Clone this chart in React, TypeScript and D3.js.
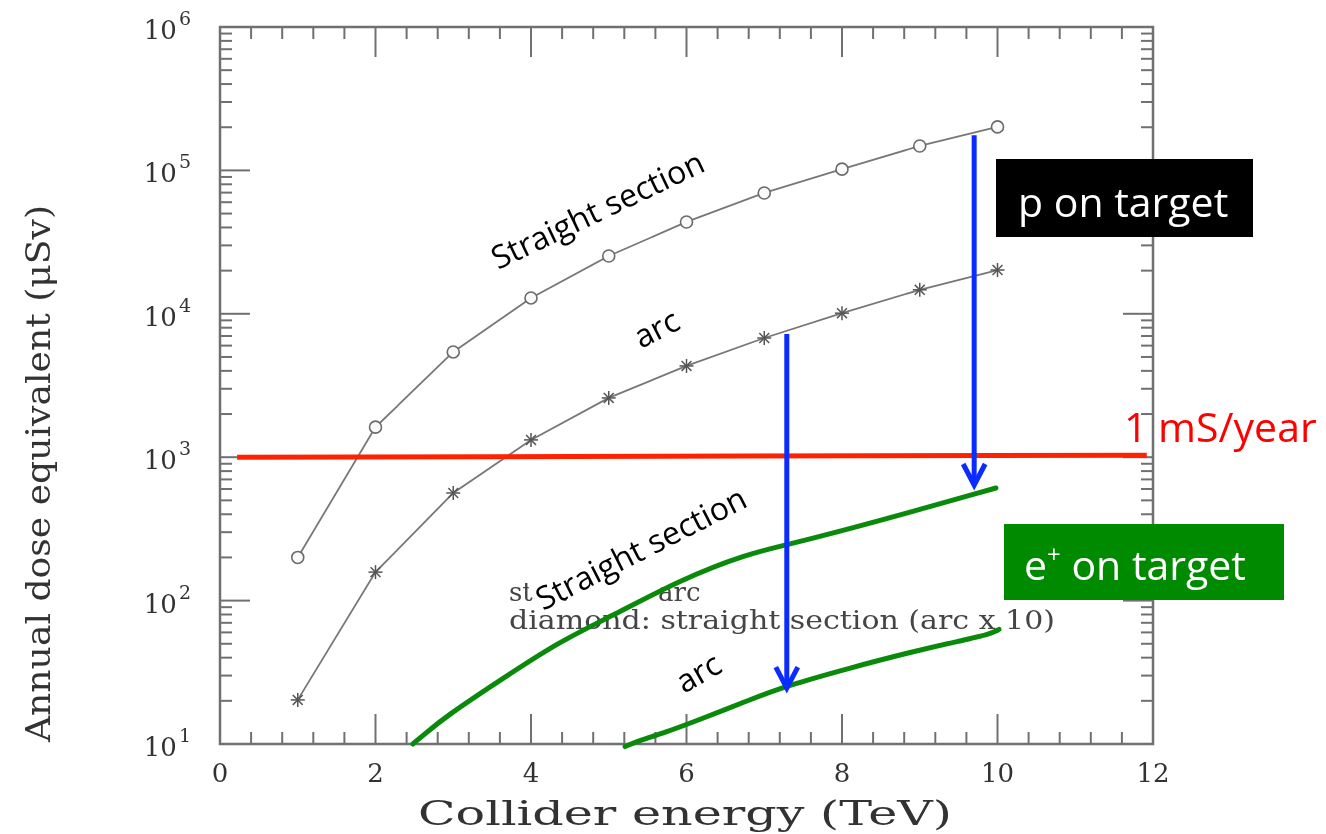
import React, { useEffect, useRef } from 'react';
import * as d3 from 'd3';

// collider energy (TeV) and annual dose (µSv)
const energies = [1, 2, 3, 4, 5, 6, 7, 8, 9, 10];
const straightDose = [200, 1620, 5420, 12900, 25300, 43700, 69600, 102000, 148000, 201000];
const arcDose = [20.3, 158, 563, 1320, 2590, 4330, 6780, 10100, 14700, 20200];

// hand drawn e+ curves
const ePosStraightE = [2.48, 2.62, 2.9, 3.63, 4.37, 5.0, 5.92, 6.78, 7.31, 8.36, 9.98];
const ePosStraightDose = [10, 11.6, 15.5, 28.5, 52, 76, 140, 212, 246, 345, 610];
const ePosArcE = [5.21, 5.4, 5.7, 6.17, 6.78, 7.28, 8.1, 8.89, 9.52, 9.9, 10.02];
const ePosArcDose = [9.6, 10.6, 11.9, 14.8, 20, 25.4, 33.9, 43.8, 52.5, 58, 63];

// 1 mSv/year limit
const limitDose = 1000;
const limitRange = [0.22, 11.92];

// blue arrows: energy, from dose, to dose
const arrowE = [9.7, 7.29];
const arrowFrom = [176000, 7230];
const arrowTo = [640, 24.5];

const xTicks = [0, 2, 4, 6, 8, 10, 12];
const yExponents = [1, 2, 3, 4, 5, 6];

const App = () => {
  const svgRef = useRef(null);

  useEffect(() => {
    const width = 1326;
    const height = 834;
    const svg = d3.select(svgRef.current);
    svg.selectAll('*').remove();
    svg.attr('width', width).attr('height', height);

    const left = 220, right = 1153, top = 27, bottom = 744;
    const x = d3.scaleLinear().domain([0, 12]).range([left, right]);
    const y = d3.scaleLog().domain([10, 1e6]).range([bottom, top]);

    svg.append('defs').append('filter')
      .attr('id', 'soft')
      .append('feGaussianBlur')
      .attr('stdDeviation', 0.6);

    const base = svg.append('g').attr('filter', 'url(#soft)');
    const axisCol = '#707070';

    base.append('rect')
      .attr('x', left).attr('y', top)
      .attr('width', right - left).attr('height', bottom - top)
      .attr('fill', 'none').attr('stroke', axisCol).attr('stroke-width', 2.5);

    // x ticks top and bottom
    const xMinor = d3.range(0, 12.001, 0.4).filter(v => Math.abs(v / 2 - Math.round(v / 2)) > 0.01);
    const tickG = base.append('g').attr('stroke', axisCol).attr('stroke-width', 2);
    xTicks.forEach(v => {
      tickG.append('line').attr('x1', x(v)).attr('x2', x(v)).attr('y1', bottom).attr('y2', bottom - 30);
      tickG.append('line').attr('x1', x(v)).attr('x2', x(v)).attr('y1', top).attr('y2', top + 30);
    });
    xMinor.forEach(v => {
      tickG.append('line').attr('x1', x(v)).attr('x2', x(v)).attr('y1', bottom).attr('y2', bottom - 12);
      tickG.append('line').attr('x1', x(v)).attr('x2', x(v)).attr('y1', top).attr('y2', top + 12);
    });

    // y ticks left and right
    yExponents.forEach(p => {
      const v = Math.pow(10, p);
      tickG.append('line').attr('y1', y(v)).attr('y2', y(v)).attr('x1', left).attr('x2', left + 30);
      tickG.append('line').attr('y1', y(v)).attr('y2', y(v)).attr('x1', right).attr('x2', right - 30);
      if (p < 6) {
        d3.range(2, 10).forEach(m => {
          const mv = m * v;
          tickG.append('line').attr('y1', y(mv)).attr('y2', y(mv)).attr('x1', left).attr('x2', left + 12);
          tickG.append('line').attr('y1', y(mv)).attr('y2', y(mv)).attr('x1', right).attr('x2', right - 12);
        });
      }
    });

    const serif = '"DejaVu Serif", serif';
    const labelCol = '#333';

    // tick labels
    yExponents.forEach(p => {
      const t = base.append('text')
        .attr('x', 191).attr('y', y(Math.pow(10, p)) + 12)
        .attr('text-anchor', 'end')
        .attr('font-family', serif).attr('font-size', 26).attr('fill', labelCol);
      t.append('tspan').text('10');
      t.append('tspan').attr('dy', -14).attr('dx', 2).attr('font-size', 19).text(p);
    });
    xTicks.forEach(v => {
      base.append('text')
        .attr('x', x(v)).attr('y', bottom + 38)
        .attr('text-anchor', 'middle')
        .attr('font-family', serif).attr('font-size', 26).attr('fill', labelCol)
        .text(v);
    });

    // axis titles
    base.append('text')
      .attr('x', 418).attr('y', 825)
      .attr('font-family', serif).attr('font-size', 33).attr('fill', labelCol)
      .attr('textLength', 534).attr('lengthAdjust', 'spacingAndGlyphs')
      .text('Collider energy (TeV)');
    base.append('text')
      .attr('transform', 'translate(50,742) rotate(-90)')
      .attr('font-family', serif).attr('font-size', 33).attr('fill', labelCol)
      .attr('textLength', 537).attr('lengthAdjust', 'spacingAndGlyphs')
      .text('Annual dose equivalent (\u03bcSv)');

    // legend text inside the plot
    const legCol = '#444';
    const legend = [
      { tx: 509, ty: 601, txt: 'star:', len: 0 },
      { tx: 658, ty: 601, txt: 'arc', len: 0 },
      { tx: 509, ty: 629, txt: 'diamond: straight section (arc x 10)', len: 546 }
    ];
    legend.forEach(l => {
      const t = base.append('text')
        .attr('x', l.tx).attr('y', l.ty)
        .attr('font-family', serif).attr('font-size', 26).attr('fill', legCol)
        .text(l.txt);
      if (l.len) t.attr('textLength', l.len).attr('lengthAdjust', 'spacingAndGlyphs');
    });

    // series lines and markers
    const pts = (xs, ys) => xs.map((e, i) => [e, ys[i]]);
    const line = d3.line().x(d => x(d[0])).y(d => y(d[1]));
    const lineCol = '#777';

    base.append('path')
      .attr('d', line(pts(energies, straightDose)))
      .attr('fill', 'none').attr('stroke', lineCol).attr('stroke-width', 1.8);
    base.append('path')
      .attr('d', line(pts(energies, arcDose)))
      .attr('fill', 'none').attr('stroke', lineCol).attr('stroke-width', 1.8);

    base.selectAll('circle.diamond')
      .data(pts(energies, straightDose))
      .enter()
      .append('circle')
      .attr('class', 'diamond')
      .attr('cx', d => x(d[0])).attr('cy', d => y(d[1]))
      .attr('r', 6)
      .attr('fill', '#fafafa').attr('stroke', '#6a6a6a').attr('stroke-width', 1.6);

    const star = base.selectAll('g.star')
      .data(pts(energies, arcDose))
      .enter()
      .append('g')
      .attr('class', 'star')
      .attr('transform', d => `translate(${x(d[0])},${y(d[1])})`)
      .attr('stroke', '#555').attr('stroke-width', 1.5);
    [0, 45, 90, 135].forEach(a => {
      const r = 7;
      const dx = r * Math.cos(a * Math.PI / 180);
      const dy = r * Math.sin(a * Math.PI / 180);
      star.append('line').attr('x1', -dx).attr('y1', -dy).attr('x2', dx).attr('y2', dy);
    });

    // annotations layer
    const ann = svg.append('g');
    const calibri = '"Open Sans", sans-serif';

    // white backed label over the legend text
    const lowStraight = ann.append('g').attr('transform', 'translate(543,611) rotate(-27)');
    lowStraight.append('rect')
      .attr('x', -2).attr('y', -30).attr('width', 178).attr('height', 30)
      .attr('fill', '#fff');

    // red limit line
    ann.append('line')
      .attr('x1', x(limitRange[0])).attr('x2', x(limitRange[1]))
      .attr('y1', y(limitDose)).attr('y2', y(limitDose) - 2)
      .attr('stroke', '#ff2200').attr('stroke-width', 5);

    // green e+ curves
    const curve = d3.line().x(d => x(d[0])).y(d => y(d[1])).curve(d3.curveBasis);
    [pts(ePosStraightE, ePosStraightDose), pts(ePosArcE, ePosArcDose)].forEach(p => {
      ann.append('path')
        .attr('d', curve(p))
        .attr('fill', 'none').attr('stroke', '#0a8a0a')
        .attr('stroke-width', 5).attr('stroke-linecap', 'round');
    });

    // blue arrows
    arrowE.forEach((e, i) => {
      const ax = x(e);
      const y0 = y(arrowFrom[i]);
      const y1 = y(arrowTo[i]);
      ann.append('line')
        .attr('x1', ax).attr('x2', ax).attr('y1', y0).attr('y2', y1 - 2)
        .attr('stroke', '#0a2cff').attr('stroke-width', 5);
      ann.append('path')
        .attr('d', `M${ax - 11},${y1 - 21} L${ax},${y1} L${ax + 11},${y1 - 21}`)
        .attr('fill', 'none').attr('stroke', '#0a2cff')
        .attr('stroke-width', 5).attr('stroke-linejoin', 'miter');
    });

    // curve labels
    const curveLabel = (tx, ty, ang, txt) => {
      ann.append('text')
        .attr('transform', `translate(${tx},${ty}) rotate(${ang})`)
        .attr('font-family', calibri).attr('font-size', 32).attr('fill', '#000')
        .text(txt);
    };
    curveLabel(498, 270, -25.5, 'Straight section');
    curveLabel(641, 349, -27, 'arc');
    curveLabel(543, 611, -27, 'Straight section');
    curveLabel(684, 694, -30, 'arc');

    // limit label
    ann.append('text')
      .attr('x', 1124).attr('y', 442)
      .attr('font-family', calibri).attr('font-size', 41).attr('fill', '#ff0000')
      .text('1 mS/year');

    // callout boxes
    ann.append('rect')
      .attr('x', 996).attr('y', 159).attr('width', 257).attr('height', 78)
      .attr('fill', '#000');
    ann.append('text')
      .attr('x', 1018).attr('y', 217)
      .attr('font-family', calibri).attr('font-size', 41).attr('fill', '#fff')
      .text('p on target');

    ann.append('rect')
      .attr('x', 1004).attr('y', 524).attr('width', 280).attr('height', 76)
      .attr('fill', '#008a00');
    const eText = ann.append('text')
      .attr('x', 1024).attr('y', 580)
      .attr('font-family', calibri).attr('font-size', 41).attr('fill', '#fff');
    eText.append('tspan').text('e');
    eText.append('tspan').attr('dy', -17).attr('font-size', 24).text('+');
    eText.append('tspan').attr('dy', 17).text(' on target');
  }, []);

  return (
    <svg
      ref={svgRef}
      style={{ position: 'absolute', left: 0, top: 0, background: '#fff' }}
    />
  );
};

export default App;
